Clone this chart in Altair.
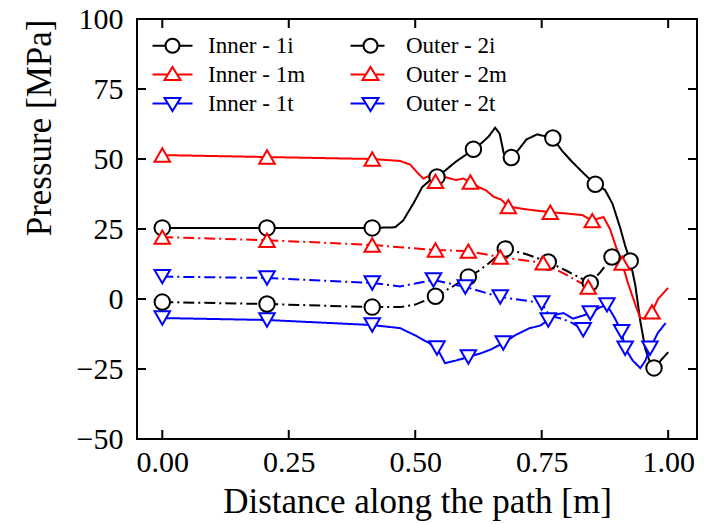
import altair as alt
import pandas as pd

# ---------------- data ----------------
SERIES = ["Inner - 1i", "Inner - 1m", "Inner - 1t", "Outer - 2i", "Outer - 2m", "Outer - 2t"]
COLORS = ["#000000", "#ff0000", "#0000ff", "#000000", "#ff0000", "#0000ff"]

# Inner - 1i (black, solid, circles)
i1_x = [0.0, 0.207, 0.415, 0.46, 0.476, 0.496, 0.514, 0.53, 0.543, 0.56, 0.58, 0.6, 0.615, 0.63, 0.645,
        0.658, 0.667, 0.675, 0.69, 0.705, 0.72, 0.741, 0.772, 0.79, 0.81, 0.835, 0.856, 0.875, 0.89,
        0.905, 0.915, 0.925, 0.935, 0.945, 0.955, 0.965, 0.975, 0.985, 1.0]
i1_y = [25.4, 25.4, 25.4, 25.6, 28, 34, 40, 42.5, 43.6, 46, 49, 51.5, 53.5, 55.5, 58,
        61.2, 59, 52, 50.5, 53.5, 57, 58.8, 57.5, 53, 49, 44.5, 41, 39, 34,
        25.5, 19, 13.6, 5, -8, -18, -23, -24.5, -22, -19]
i1_mx = [0.0, 0.207, 0.415, 0.543, 0.615, 0.69, 0.772, 0.856, 0.925, 0.972]
i1_my = [25.4, 25.4, 25.4, 43.6, 53.5, 50.5, 57.5, 41, 13.6, -24.6]

# Inner - 1m (red, solid, up triangles)
m1_x = [0.0, 0.207, 0.415, 0.47, 0.49, 0.505, 0.516, 0.525, 0.54, 0.56, 0.58, 0.595, 0.609, 0.625,
        0.64, 0.655, 0.67, 0.684, 0.72, 0.767, 0.8, 0.83, 0.85, 0.872, 0.885, 0.9, 0.909, 0.92,
        0.935, 0.945, 0.955, 0.968, 0.98, 1.0]
m1_y = [51.4, 50.7, 50, 49.3, 48, 45, 43, 43.8, 42, 43.5, 42.5, 43, 41.8, 40,
        38.8, 36.5, 35.5, 33, 32, 31, 30.5, 30, 28, 29.3, 25, 17, 12.8, 6,
        -2, -6.8, -7, -4.6, 0, 4]
m1_mx = [0.0, 0.207, 0.415, 0.54, 0.609, 0.684, 0.767, 0.85, 0.909, 0.968]
m1_my = [51.4, 50.7, 50, 42, 41.8, 33, 31, 28, 12.8, -4.6]

# Inner - 1t (blue, solid, down triangles)
t1_x = [0.0, 0.207, 0.415, 0.47, 0.5, 0.525, 0.543, 0.559, 0.58, 0.605, 0.628, 0.65, 0.674, 0.698,
        0.725, 0.747, 0.763, 0.78, 0.793, 0.812, 0.83, 0.846, 0.865, 0.879, 0.895, 0.908, 0.915,
        0.93, 0.945, 0.955, 0.964, 0.98, 0.995]
t1_y = [-6.8, -7.5, -9.3, -10.4, -13, -15.5, -17.5, -22.9, -22, -20.7, -19.5, -18, -15.7, -12.9,
        -10.5, -9.5, -7.5, -5.5, -5, -7, -6, -5, -3, -2.1, -7, -11.7, -17.6,
        -22, -24.7, -22, -17.6, -12, -8.6]
t1_mx = [0.0, 0.207, 0.415, 0.543, 0.605, 0.674, 0.763, 0.846, 0.879, 0.908, 0.915, 0.964]
t1_my = [-6.8, -7.5, -9.3, -17.5, -20.7, -15.7, -7.5, -5, -2.1, -11.7, -17.6, -17.6]

# Outer - 2i (black, dash-dot, circles)
i2_x = [0.0, 0.207, 0.415, 0.47, 0.5, 0.54, 0.57, 0.605, 0.625, 0.645, 0.678, 0.72, 0.763, 0.8,
        0.846, 0.866, 0.889]
i2_y = [-1.1, -1.8, -2.9, -2.9, -2, 1, 4, 7.9, 10, 12.7, 17.9, 16, 13.2, 10,
        5.7, 9.6, 15]
i2_mx = [0.0, 0.207, 0.415, 0.54, 0.605, 0.678, 0.763, 0.846, 0.889]
i2_my = [-1.1, -1.8, -2.9, 1, 7.9, 17.9, 13.2, 5.7, 15]

# Outer - 2m (red, dash-dot, up triangles)
m2_x = [0.0, 0.207, 0.415, 0.47, 0.54, 0.605, 0.668, 0.753, 0.8, 0.842]
m2_y = [22.1, 21, 19.3, 18.5, 17.5, 17.1, 15, 12.9, 8.5, 4.3]
m2_mx = [0.0, 0.207, 0.415, 0.54, 0.605, 0.668, 0.753, 0.842]
m2_my = [22.1, 21, 19.3, 17.5, 17.1, 15, 12.9, 4.3]

# Outer - 2t (blue, dash-dot, down triangles)
t2_x = [0.0, 0.207, 0.415, 0.47, 0.5, 0.536, 0.599, 0.668, 0.75, 0.765, 0.79, 0.81, 0.832]
t2_y = [8, 7.5, 5.7, 4.5, 5.5, 6.8, 4.3, 0.7, -1.4, -6, -7, -8.5, -11]
t2_mx = [0.0, 0.207, 0.415, 0.536, 0.599, 0.668, 0.75, 0.832]
t2_my = [8, 7.5, 5.7, 6.8, 4.3, 0.7, -1.4, -11]

X_TICKS = [0.0, 0.25, 0.5, 0.75, 1.0]
Y_TICKS = [-50, -25, 0, 25, 50, 75, 100]

# ---------------- tables ----------------
line_src = {
    "Inner - 1i": (i1_x, i1_y), "Inner - 1m": (m1_x, m1_y), "Inner - 1t": (t1_x, t1_y),
    "Outer - 2i": (i2_x, i2_y), "Outer - 2m": (m2_x, m2_y), "Outer - 2t": (t2_x, t2_y),
}
mark_src = {
    "Inner - 1i": (i1_mx, i1_my), "Inner - 1m": (m1_mx, m1_my), "Inner - 1t": (t1_mx, t1_my),
    "Outer - 2i": (i2_mx, i2_my), "Outer - 2m": (m2_mx, m2_my), "Outer - 2t": (t2_mx, t2_my),
}
lines = pd.DataFrame([{"series": s, "x": x, "y": y, "i": k}
                      for s, (xs, ys) in line_src.items() for k, (x, y) in enumerate(zip(xs, ys))])
marks = pd.DataFrame([{"series": s, "x": x, "y": y}
                      for s, (xs, ys) in mark_src.items() for x, y in zip(xs, ys)])
keys = pd.DataFrame({"series": SERIES, "x": [0.0] * 6, "y": [0.0] * 6})
xt = pd.DataFrame({"v": X_TICKS})
yt = pd.DataFrame({"v": Y_TICKS})

FONT = "Liberation Serif"
W, H = 560, 420

xscale = alt.Scale(domain=[-0.05, 1.057], nice=False, zero=False)
yscale = alt.Scale(domain=[-50, 100], nice=False, zero=False)

DASH = [[1, 0]] * 3 + [[11, 4, 2, 4]] * 3
SHAPES = ["circle", "triangle-up", "triangle-down"] * 2

circ_in = "M-2,0L-0.7,0M0.7,0L2,0M-0.7,0A0.7,0.7,0,1,1,0.7,0A0.7,0.7,0,1,1,-0.7,0Z"
circ_out = "M-2,0L-0.7,0M0.7,0L1.4,0M-0.7,0A0.7,0.7,0,1,1,0.7,0A0.7,0.7,0,1,1,-0.7,0Z"
up_in = "M-2,0L-0.46,0M0.46,0L2,0M0,-0.75L0.8,0.55L-0.8,0.55Z"
up_out = "M-2,0L-0.46,0M0.46,0L1.4,0M0,-0.75L0.8,0.55L-0.8,0.55Z"
dn_in = "M-2,0L-0.46,0M0.46,0L2,0M0,0.75L0.8,-0.55L-0.8,-0.55Z"
dn_out = "M-2,0L-0.46,0M0.46,0L1.4,0M0,0.75L0.8,-0.55L-0.8,-0.55Z"
KEY_PATHS = [circ_in, up_in, dn_in, circ_out, up_out, dn_out]

X = alt.X("x:Q", scale=xscale,
          axis=alt.Axis(values=X_TICKS, format=".2f", ticks=False, domain=False, grid=False,
                        labelFont=FONT, labelFontSize=30, labelColor="black", labelPadding=8,
                        title="Distance along the path [m]", titleFont=FONT, titleFontSize=35,
                        titleFontWeight="normal", titleColor="black", titleY=73,
                        titleBaseline="alphabetic"))
Y = alt.Y("y:Q", scale=yscale,
          axis=alt.Axis(values=Y_TICKS, format="d", ticks=False, domain=False, grid=False,
                        labelFont=FONT, labelFontSize=30, labelColor="black", labelPadding=14,
                        title="Pressure [MPa]", titleFont=FONT, titleFontSize=35,
                        titleFontWeight="normal", titleColor="black", titleAnchor="end",
                        titleX=-87, titleBaseline="alphabetic"))

line_layer = alt.Chart(lines).mark_line(strokeWidth=2, clip=True).encode(
    x=X, y=Y,
    color=alt.Color("series:N", scale=alt.Scale(domain=SERIES, range=COLORS), legend=None),
    strokeDash=alt.StrokeDash("series:N", scale=alt.Scale(domain=SERIES, range=DASH), legend=None),
    order="i:Q",
)

point_layer = alt.Chart(marks).mark_point(filled=True, size=240, strokeWidth=2, opacity=1).encode(
    x="x:Q", y="y:Q",
    fill=alt.value("white"),
    stroke=alt.Stroke("series:N", scale=alt.Scale(domain=SERIES, range=COLORS), legend=None),
    shape=alt.Shape("series:N", scale=alt.Scale(domain=SERIES, range=SHAPES), legend=None),
)

leg = alt.Legend(title=None, orient="none", legendX=24, legendY=15, columns=2, padding=0,
                 labelFont=FONT, labelFontSize=23, labelColor="black", labelOffset=24,
                 symbolSize=400, symbolStrokeWidth=2, symbolOpacity=1, rowPadding=5,
                 columnPadding=40, labelLimit=300)
key_layer = alt.Chart(keys).mark_point(filled=False, opacity=0).encode(
    x="x:Q", y="y:Q",
    color=alt.Color("series:N", scale=alt.Scale(domain=SERIES, range=COLORS), legend=leg),
    shape=alt.Shape("series:N", scale=alt.Scale(domain=SERIES, range=KEY_PATHS), legend=leg),
)

bt = alt.Chart(xt).mark_rule(color="black", strokeWidth=2).encode(
    x="v:Q", y=alt.value(H), y2=alt.value(H - 9))
tt = alt.Chart(xt).mark_rule(color="black", strokeWidth=2).encode(
    x="v:Q", y=alt.value(0), y2=alt.value(9))
lt = alt.Chart(yt).mark_rule(color="black", strokeWidth=2).encode(
    y="v:Q", x=alt.value(0), x2=alt.value(9))
rt = alt.Chart(yt).mark_rule(color="black", strokeWidth=2).encode(
    y="v:Q", x=alt.value(W), x2=alt.value(W - 9))

chart = alt.layer(line_layer, point_layer, key_layer, bt, tt, lt, rt).resolve_scale(
    color="independent", shape="independent", stroke="independent", strokeDash="independent"
).properties(
    width=W, height=H, autosize="none",
    padding={"left": 137, "top": 19, "right": 7, "bottom": 85},
    background="white",
).configure(font=FONT).configure_view(stroke="black", strokeWidth=2).configure_legend(
    labelFont=FONT, labelFontSize=23, labelColor="black"
)

chart.save("out.html", embed_options={"renderer": "svg", "actions": False})
